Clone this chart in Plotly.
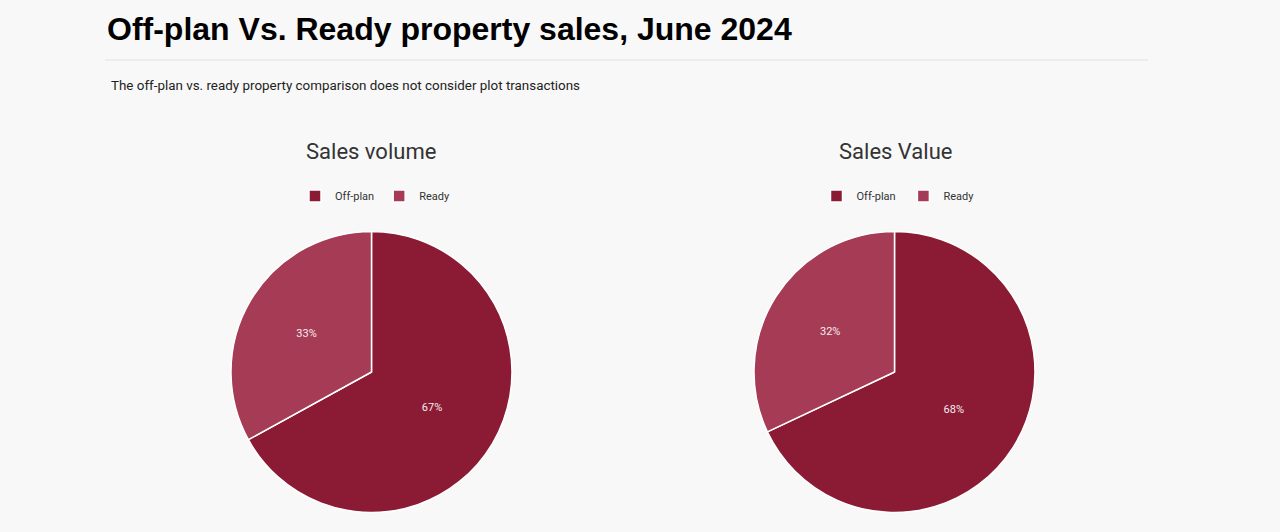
import plotly.graph_objects as go

labels = ["Off-plan", "Ready"]
volume_share = [67, 33]
value_share = [68, 32]
colors = ["#8B1B35", "#A63B56"]

W, H = 1280, 532


def px_x(x):
    return x / W


def px_y(y):
    return 1 - y / H


fig = go.Figure()

fig.add_trace(go.Pie(
    labels=labels, values=volume_share, sort=False, direction="clockwise",
    marker=dict(colors=colors, line=dict(color="white", width=1.5)),
    textinfo="percent", texttemplate="%{percent:.0%}",
    textfont=dict(color="#F4ECEE", size=11, family="Roboto"),
    domain=dict(x=[px_x(231), px_x(512)], y=[px_y(513), px_y(231)]),
    legend="legend", hoverinfo="label+percent",
))
# pie legend entries are merged by label, so the second chart's labels get a
# trailing space to keep them separate for its own legend
fig.add_trace(go.Pie(
    labels=[lab + " " for lab in labels], values=value_share, sort=False,
    direction="clockwise",
    marker=dict(colors=colors, line=dict(color="white", width=1.5)),
    textinfo="percent", texttemplate="%{percent:.0%}",
    textfont=dict(color="#F4ECEE", size=11, family="Roboto"),
    domain=dict(x=[px_x(754), px_x(1035)], y=[px_y(513), px_y(231)]),
    legend="legend2", hoverinfo="label+percent",
))

legend_style = dict(orientation="h", xanchor="center", yanchor="middle",
                    font=dict(size=11, family="Roboto", color="#333333"),
                    bgcolor="rgba(0,0,0,0)", itemwidth=30,
                    traceorder="normal")

fig.update_layout(
    width=W, height=H,
    margin=dict(l=0, r=0, t=0, b=0),
    paper_bgcolor="#F8F8F8",
    plot_bgcolor="#F8F8F8",
    legend=dict(x=px_x(375), y=px_y(196), **legend_style),
    legend2=dict(x=px_x(899), y=px_y(196), **legend_style),
    shapes=[dict(type="line", xref="paper", yref="paper",
                 x0=px_x(105), x1=px_x(1148), y0=px_y(60), y1=px_y(60),
                 line=dict(color="#EAEAEA", width=1.5))],
    annotations=[
        dict(text="<b>Off-plan Vs. Ready property sales, June 2024</b>",
             x=px_x(105), y=px_y(29), xref="paper", yref="paper",
             xanchor="left", yanchor="middle", showarrow=False,
             font=dict(size=32, family="Liberation Sans", color="#000000")),
        dict(text="The off-plan vs. ready property comparison does not consider plot transactions",
             x=px_x(109), y=px_y(86), xref="paper", yref="paper",
             xanchor="left", yanchor="middle", showarrow=False,
             font=dict(size=13.4, family="Roboto", color="#222222")),
        dict(text="Sales volume", x=px_x(371), y=px_y(151), xref="paper", yref="paper",
             xanchor="center", yanchor="middle", showarrow=False,
             font=dict(size=22, family="Roboto", color="#333333")),
        dict(text="Sales Value", x=px_x(895), y=px_y(151), xref="paper", yref="paper",
             xanchor="center", yanchor="middle", showarrow=False,
             font=dict(size=22, family="Roboto", color="#333333")),
    ],
)

fig.write_html("out.html", config={"displayModeBar": False},
               post_script="document.body.style.margin='0';")
